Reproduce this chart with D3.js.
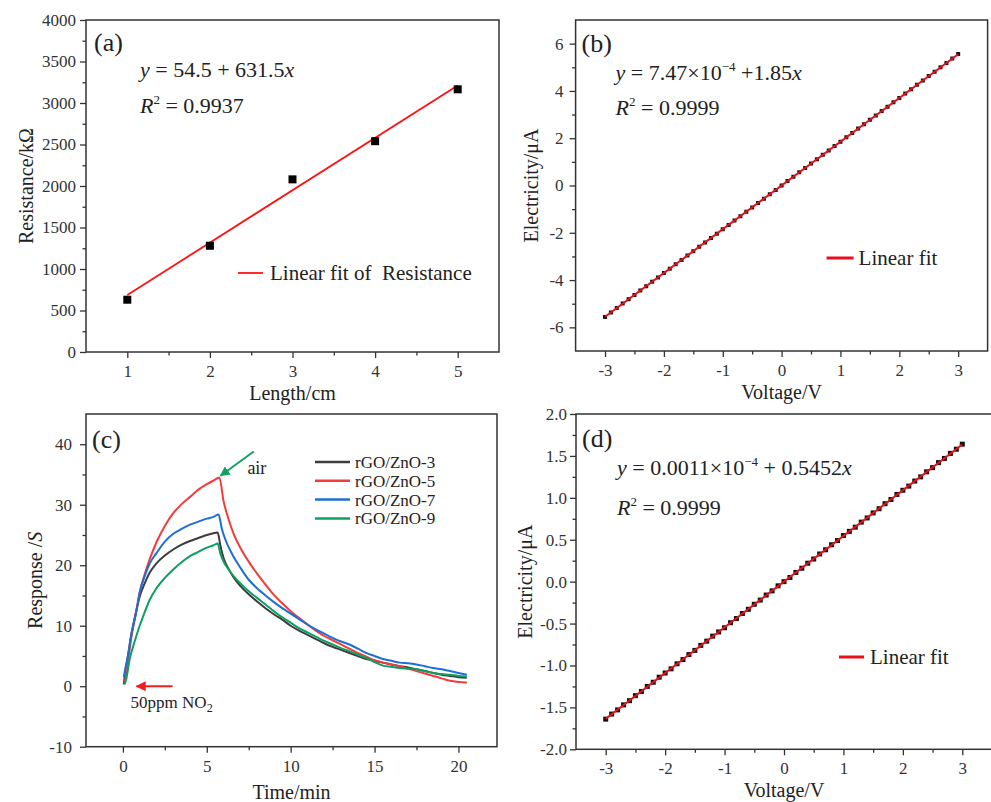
<!DOCTYPE html>
<html lang="en">
<head>
<meta charset="UTF-8">
<title>rGO/ZnO sensor</title>
<script src="https://d3js.org/d3.v7.min.js"></script>
<style>
    body { margin: 0; background: #fff; }
    svg text, svg tspan { font-family: "Liberation Serif", "Times New Roman", serif !important; }
    svg text { fill: #222; }
    .tick text { fill: #333; font-size: 17px; }
    .tick line { stroke: #333; stroke-width: 1.3; }
    .domain { display: none; }
</style>
</head>
<body>
<div id="chart"></div>
<script>
// ---- (a) resistance vs length
const lengthCm = [1, 2, 3, 4, 5];
const resistance = [630, 1280, 2080, 2540, 3165];
const fitA = [54.5, 631.5];          // intercept, slope
const fitARange = [1, 5];

// ---- (b) and (d) I-V sweeps
const voltage = [-3.0,-2.9,-2.8,-2.7,-2.6,-2.5,-2.4,-2.3,-2.2,-2.1,-2.0,-1.9,-1.8,-1.7,-1.6,-1.5,-1.4,-1.3,-1.2,-1.1,-1.0,-0.9,-0.8,-0.7,-0.6,-0.5,-0.4,-0.3,-0.2,-0.1,
    0.0,0.1,0.2,0.3,0.4,0.5,0.6,0.7,0.8,0.9,1.0,1.1,1.2,1.3,1.4,1.5,1.6,1.7,1.8,1.9,2.0,2.1,2.2,2.3,2.4,2.5,2.6,2.7,2.8,2.9,3.0];
const currentB = [-5.56,-5.37,-5.18,-4.99,-4.81,-4.63,-4.44,-4.26,-4.07,-3.89,-3.70,-3.52,-3.33,-3.15,-2.96,-2.78,-2.59,-2.41,-2.22,-2.04,-1.85,-1.67,-1.48,-1.30,-1.11,-0.93,-0.74,-0.56,-0.37,-0.19,
    0.00,0.19,0.37,0.56,0.74,0.93,1.11,1.30,1.48,1.67,1.85,2.04,2.22,2.41,2.59,2.78,2.96,3.15,3.33,3.52,3.70,3.89,4.07,4.26,4.44,4.63,4.81,5.00,5.18,5.37,5.56];
const fitB = [7.47e-4, 1.85];
const currentD = [-1.64,-1.58,-1.53,-1.47,-1.42,-1.36,-1.31,-1.25,-1.20,-1.14,-1.09,-1.04,-0.98,-0.93,-0.87,-0.82,-0.76,-0.71,-0.65,-0.60,-0.55,-0.49,-0.44,-0.38,-0.33,-0.27,-0.22,-0.16,-0.11,-0.05,
    0.00,0.05,0.11,0.16,0.22,0.27,0.33,0.38,0.44,0.49,0.55,0.60,0.65,0.71,0.76,0.82,0.87,0.93,0.98,1.04,1.09,1.14,1.20,1.25,1.31,1.36,1.42,1.47,1.53,1.58,1.64];
const fitD = [0.0011e-4, 0.5452];
const fitIVRange = [-3, 3];

// ---- (c) response curves
const seriesNames = ["rGO/ZnO-3", "rGO/ZnO-5", "rGO/ZnO-7", "rGO/ZnO-9"];
const seriesColors = ["#3d3d3d", "#f23b3b", "#1d6fd6", "#0f9e62"];
const timeZnO3 = [0.05,0.1,0.3,0.5,0.8,1.0,1.3,1.6,2.0,2.5,3.0,3.5,4.0,4.5,5.0,5.4,5.65,5.8,6.0,6.3,6.6,7.0,7.5,8.0,8.5,9.0,9.5,10.0,10.5,11.0,11.5,12.0,12.5,13.0,13.5,14.0,14.5,15.0,15.5,16.0,16.5,17.0,17.5,18.0,18.5,19.0,19.5,20.0,20.5];
const respZnO3 = [0.3,1.5,5,8.5,12.5,14.8,17,18.8,20.3,21.6,22.6,23.4,24.0,24.5,25.0,25.3,25.4,23.4,21.2,19.4,18.0,16.6,15.2,14.0,12.9,11.9,11.0,10.0,9.2,8.5,7.8,7.1,6.5,6.0,5.5,5.0,4.5,4.2,3.9,3.6,3.3,3.1,2.8,2.5,2.2,1.9,1.7,1.5,1.4];
const timeZnO5 = [0.1,0.3,0.5,0.8,1.0,1.3,1.6,2.0,2.5,3.0,3.5,4.0,4.5,5.0,5.4,5.75,6.0,6.3,6.6,7.0,7.5,8.0,8.5,9.0,9.5,10.0,10.5,11.0,11.5,12.0,12.5,13.0,13.5,14.0,14.5,15.0,15.5,16.0,16.5,17.0,17.5,18.0,18.5,19.0,19.5,20.0,20.5];
const respZnO5 = [0.5,4,8,12.5,15.5,18.5,21.0,23.8,26.5,28.6,30.1,31.3,32.5,33.4,34.0,34.5,30.6,27.6,25.2,22.9,20.6,18.6,16.8,15.1,13.7,12.4,11.3,10.2,9.2,8.3,7.6,6.9,6.2,5.5,4.9,4.3,3.9,3.6,3.3,2.9,2.5,2.1,1.7,1.3,0.9,0.7,0.6];
const timeZnO7 = [0.05,0.15,0.3,0.5,0.8,1.0,1.3,1.6,2.0,2.5,3.0,3.5,4.0,4.5,5.0,5.4,5.7,5.9,6.1,6.5,7.0,7.5,8.0,8.5,9.0,9.5,10.0,10.5,11.0,11.5,12.0,12.5,13.0,13.5,14.0,14.5,15.0,15.5,16.0,16.5,17.0,17.5,18.0,18.5,19.0,19.5,20.0,20.5];
const respZnO7 = [1.5,3,5,8.5,12.3,15.5,18.2,20.3,22.0,23.9,25.2,26.0,26.7,27.2,27.7,28.0,28.4,26.0,24.3,21.9,19.6,17.6,16.2,15.0,13.9,12.9,12.0,11.1,10.2,9.4,8.7,8.0,7.4,6.9,6.2,5.5,5.0,4.5,4.2,3.9,3.8,3.6,3.3,3.0,2.8,2.5,2.2,1.9];
const timeZnO9 = [0.1,0.2,0.4,0.6,0.8,1.0,1.2,1.6,2.0,2.5,3.0,3.5,4.0,4.5,5.0,5.4,5.65,5.8,6.0,6.3,6.6,7.0,7.5,8.0,8.5,9.0,9.5,10.0,10.5,11.0,11.5,12.0,12.5,13.0,13.5,14.0,14.5,15.0,15.5,16.0,16.5,17.0,17.5,18.0,18.5,19.0,19.5,20.0,20.5];
const respZnO9 = [0.3,1.2,4.4,6.5,8.3,10,11.5,14.3,16.2,17.9,19.3,20.5,21.5,22.2,22.9,23.3,23.6,22.0,20.6,19.3,18.2,17.0,15.7,14.6,13.5,12.4,11.4,10.5,9.6,8.9,8.2,7.5,6.9,6.3,5.8,5.2,4.7,4.0,3.4,3.2,3.0,2.9,2.8,2.5,2.2,2.0,1.9,1.7,1.6];
const timeSeries = [timeZnO3, timeZnO5, timeZnO7, timeZnO9];
const respSeries = [respZnO3, respZnO5, respZnO7, respZnO9];

// annotation anchors in data units (time, response)
const airArrow = [[7.8, 38.8], [5.82, 34.8]];
const airLabel = [7.42, 35];
const no2Arrow = [[2.96, 0], [0.82, 0]];
const no2Label = [0.46, -3.6];

const width = 991, height = 802;
const svg = d3.select('#chart').append('svg')
    .attr('width', width)
    .attr('height', height)
    .attr('font-family', '"Liberation Serif", "Times New Roman", serif');

const loc = d3.formatLocale({decimal: ".", thousands: ",", grouping: [3], currency: ["", ""], minus: "-"});
const fmtInt = loc.format("d"), fmt1 = loc.format(".1f");

function panel(box, xDomain, yDomain) {
    const g = svg.append('g').attr('transform', `translate(${box.left},${box.top})`);
    const x = d3.scaleLinear().domain(xDomain).range([0, box.w]);
    const y = d3.scaleLinear().domain(yDomain).range([box.h, 0]);
    return {g, x, y, box};
}

function clean(sel) {
    sel.attr('font-family', null).attr('font-size', null);
}

function axes(p, o) {
    const {g, x, y, box} = p;
    g.append('g').attr('transform', `translate(0,${box.h})`)
        .call(d3.axisBottom(x).tickValues(o.xMinor).tickSize(3.5).tickFormat('')).call(clean);
    g.append('g').attr('transform', `translate(0,${box.h})`)
        .call(d3.axisBottom(x).tickValues(o.xMajor).tickSize(6).tickPadding(7).tickFormat(o.xFmt)).call(clean);
    g.append('g')
        .call(d3.axisLeft(y).tickValues(o.yMinor).tickSize(3.5).tickFormat('')).call(clean);
    g.append('g')
        .call(d3.axisLeft(y).tickValues(o.yMajor).tickSize(6).tickPadding(o.yPad).tickFormat(o.yFmt)).call(clean);
    g.append('rect')
        .attr('width', box.w).attr('height', box.h)
        .attr('fill', 'none').attr('stroke', '#333').attr('stroke-width', 1.5);
    if (o.yTitle) {
        g.append('text')
            .attr('transform', `translate(${o.yTitleX},${box.h / 2}) rotate(-90)`)
            .attr('text-anchor', 'middle').style('font-size', '20px')
            .text(o.yTitle);
    }
    g.append('text')
        .attr('x', box.w / 2).attr('y', box.h + o.xTitleY)
        .attr('text-anchor', 'middle').style('font-size', '20px')
        .text(o.xTitle);
}

function equation(g, x, y, parts) {
    const t = g.append('text').attr('x', x).attr('y', y).style('font-size', '22px');
    parts.forEach(p => {
        const s = t.append('tspan').text(p.t);
        if (p.i) s.style('font-style', 'italic');
        if (p.sup) s.attr('dy', '-9').style('font-size', '13px');
        if (p.down) s.attr('dy', '9');
    });
}

function tag(g, x, y, label) {
    g.append('text').attr('x', x).attr('y', y).style('font-size', '26px').text(label);
}

function range(a, b, s) { return d3.range(a, b + s / 2, s); }

// ================= (a)
{
    const p = panel({left: 86, top: 20, w: 413, h: 332}, [0.5, 5.5], [0, 4000]);
    axes(p, {
        xMajor: lengthCm, xMinor: [1.5, 2.5, 3.5, 4.5], xFmt: fmtInt,
        yMajor: range(0, 4000, 500), yMinor: range(250, 3750, 500), yFmt: fmtInt, yPad: 4,
        yTitle: 'Resistance/kΩ', yTitleX: -53, xTitle: 'Length/cm', xTitleY: 48
    });
    const {g, x, y} = p;
    g.append('line')
        .attr('x1', x(fitARange[0])).attr('y1', y(fitA[0] + fitA[1] * fitARange[0]))
        .attr('x2', x(fitARange[1])).attr('y2', y(fitA[0] + fitA[1] * fitARange[1]))
        .attr('stroke', '#f11').attr('stroke-width', 1.8);
    g.selectAll('rect.pt').data(lengthCm).enter().append('rect')
        .attr('class', 'pt')
        .attr('x', d => x(d) - 4).attr('y', (d, i) => y(resistance[i]) - 4)
        .attr('width', 8).attr('height', 8).attr('fill', '#000');
    tag(g, 8, 31, '(a)');
    equation(g, 54, 57, [{t: 'y', i: 1}, {t: ' = 54.5 + 631.5'}, {t: 'x', i: 1}]);
    equation(g, 54, 93, [{t: 'R', i: 1}, {t: '2', sup: 1}, {t: ' = 0.9937', down: 1}]);
    g.append('line').attr('x1', 152).attr('x2', 177).attr('y1', 253).attr('y2', 253)
        .attr('stroke', '#f11').attr('stroke-width', 1.8);
    g.append('text').attr('x', 184).attr('y', 260).style('font-size', '21px')
        .attr('xml:space', 'preserve').text('Linear fit of  Resistance');
}

// ================= (b) and (d)
function ivPanel(box, yDomain, current, fit, o) {
    const p = panel(box, [-3.5, 3.5], yDomain);
    axes(p, Object.assign({
        xMajor: range(-3, 3, 1), xMinor: range(-2.5, 2.5, 1), xFmt: fmtInt,
        yTitle: 'Electricity/μA', xTitle: 'Voltage/V'
    }, o));
    const {g, x, y} = p;
    g.selectAll('rect.pt').data(voltage).enter().append('rect')
        .attr('class', 'pt')
        .attr('x', d => x(d) - o.ms / 2).attr('y', (d, i) => y(current[i]) - o.ms / 2)
        .attr('width', o.ms).attr('height', o.ms).attr('fill', '#111');
    g.append('line')
        .attr('x1', x(fitIVRange[0])).attr('y1', y(fit[0] + fit[1] * fitIVRange[0]))
        .attr('x2', x(fitIVRange[1])).attr('y2', y(fit[0] + fit[1] * fitIVRange[1]))
        .attr('stroke', '#e8101a').attr('stroke-width', 2);
    return p;
}

{
    const p = ivPanel({left: 575.6, top: 20, w: 412, h: 331}, [-7, 7], currentB, fitB, {
        yMajor: range(-6, 6, 2), yMinor: range(-5, 5, 2), yFmt: fmtInt, yPad: 6,
        yTitleX: -38, xTitleY: 48, ms: 4
    });
    const g = p.g;
    tag(g, 6, 32, '(b)');
    equation(g, 40, 60, [{t: 'y', i: 1}, {t: ' = 7.47×10'}, {t: '−4', sup: 1}, {t: ' +1.85', down: 1}, {t: 'x', i: 1}]);
    equation(g, 40, 95, [{t: 'R', i: 1}, {t: '2', sup: 1}, {t: ' = 0.9999', down: 1}]);
    g.append('line').attr('x1', 251).attr('x2', 278).attr('y1', 238).attr('y2', 238)
        .attr('stroke', '#e8101a').attr('stroke-width', 3);
    g.append('text').attr('x', 283).attr('y', 245).style('font-size', '21px').text('Linear fit');
}

{
    const p = ivPanel({left: 576, top: 414, w: 416, h: 335.3}, [-2, 2], currentD, fitD, {
        yMajor: range(-2, 2, 0.5), yMinor: range(-1.75, 1.75, 0.5), yFmt: fmt1, yPad: 3,
        yTitleX: -44, xTitleY: 48, ms: 5
    });
    const g = p.g;
    tag(g, 6, 33, '(d)');
    equation(g, 41, 61, [{t: 'y', i: 1}, {t: ' = 0.0011×10'}, {t: '−4', sup: 1}, {t: ' + 0.5452', down: 1}, {t: 'x', i: 1}]);
    equation(g, 41, 101, [{t: 'R', i: 1}, {t: '2', sup: 1}, {t: ' = 0.9999', down: 1}]);
    g.append('line').attr('x1', 263).attr('x2', 288).attr('y1', 243).attr('y2', 243)
        .attr('stroke', '#e8101a').attr('stroke-width', 3);
    g.append('text').attr('x', 294).attr('y', 250).style('font-size', '21px').text('Linear fit');
}

// ================= (c)
{
    const p = panel({left: 86, top: 414, w: 411, h: 332.7}, [-2.2, 22.3], [-10, 45]);
    axes(p, {
        xMajor: range(0, 20, 5), xMinor: range(2.5, 17.5, 5), xFmt: fmtInt,
        yMajor: range(-10, 40, 10), yMinor: range(-5, 35, 10), yFmt: fmtInt, yPad: 8,
        yTitle: '', xTitle: 'Time/min', xTitleY: 52
    });
    const {g, x, y, box} = p;
    // y title with italic S
    const yt = g.append('text')
        .attr('transform', `translate(-44,${box.h / 2}) rotate(-90)`)
        .attr('text-anchor', 'middle').style('font-size', '20px');
    yt.append('tspan').text('Response /');
    yt.append('tspan').style('font-style', 'italic').text('S');

    const line = d3.line().curve(d3.curveMonotoneX);
    timeSeries.forEach((ts, k) => {
        g.append('path')
            .datum(ts.map((t, i) => [x(t), y(respSeries[k][i])]))
            .attr('d', line)
            .attr('fill', 'none')
            .attr('stroke', seriesColors[k])
            .attr('stroke-width', 2);
    });

    const defs = svg.append('defs');
    [['arrG', '#13a060'], ['arrR', '#f21e1e']].forEach(([id, c]) => {
        defs.append('marker').attr('id', id).attr('viewBox', '0 0 10 10')
            .attr('refX', 9).attr('refY', 5).attr('markerWidth', 5).attr('markerHeight', 5)
            .attr('orient', 'auto')
            .append('path').attr('d', 'M0,0 L10,5 L0,10 z').attr('fill', c);
    });
    g.append('line')
        .attr('x1', x(airArrow[0][0])).attr('y1', y(airArrow[0][1]))
        .attr('x2', x(airArrow[1][0])).attr('y2', y(airArrow[1][1]))
        .attr('stroke', '#13a060').attr('stroke-width', 2).attr('marker-end', 'url(#arrG)');
    g.append('text').attr('x', x(airLabel[0])).attr('y', y(airLabel[1]))
        .style('font-size', '18px').text('air');
    g.append('line')
        .attr('x1', x(no2Arrow[0][0])).attr('y1', y(no2Arrow[0][1]))
        .attr('x2', x(no2Arrow[1][0])).attr('y2', y(no2Arrow[1][1]))
        .attr('stroke', '#f21e1e').attr('stroke-width', 2).attr('marker-end', 'url(#arrR)');
    const nt = g.append('text').attr('x', x(no2Label[0])).attr('y', y(no2Label[1]))
        .style('font-size', '17px');
    nt.append('tspan').text('50ppm NO');
    nt.append('tspan').attr('dy', 4).style('font-size', '12px').text('2');

    tag(g, 6, 34, '(c)');

    const leg = g.append('g').attr('transform', 'translate(229,48)');
    seriesNames.forEach((n, i) => {
        leg.append('line').attr('x1', 0).attr('x2', 35).attr('y1', i * 18.8).attr('y2', i * 18.8)
            .attr('stroke', seriesColors[i]).attr('stroke-width', 2.5);
        leg.append('text').attr('x', 40).attr('y', i * 18.8 + 6).style('font-size', '17px').text(n);
    });
}
</script>
</body>
</html>
